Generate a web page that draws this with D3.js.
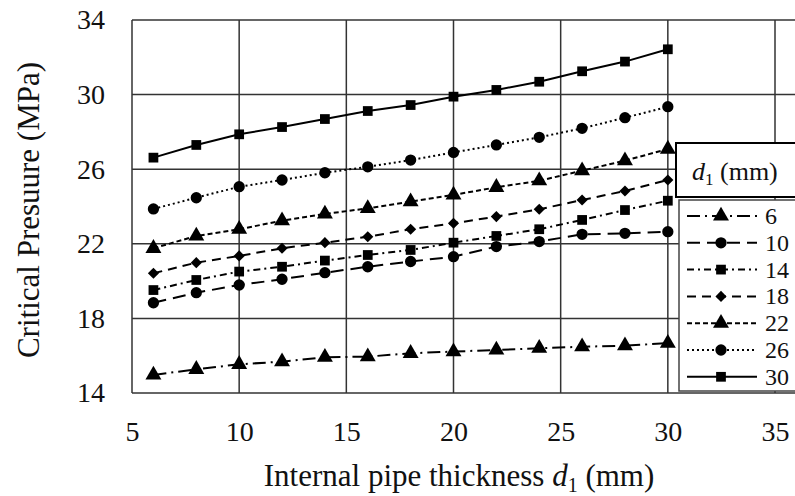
<!DOCTYPE html>
<html>
<head>
<meta charset="utf-8">
<script src="https://cdn.jsdelivr.net/npm/d3@7"></script>
<style>
  body { margin: 0; background: #fff; }
  svg { display: block; font-family: "Liberation Serif", "DejaVu Serif", serif; }
</style>
</head>
<body>
<div id="chart"></div>
<script>
// data
const thickness = [6, 8, 10, 12, 14, 16, 18, 20, 22, 24, 26, 28, 30];
const seriesNames = ["6", "10", "14", "18", "22", "26", "30"];
const p6  = [14.97, 15.27, 15.54, 15.68, 15.92, 15.95, 16.13, 16.22, 16.31, 16.40, 16.48, 16.54, 16.67];
const p10 = [18.84, 19.38, 19.79, 20.10, 20.45, 20.77, 21.05, 21.31, 21.85, 22.12, 22.51, 22.56, 22.65];
const p14 = [19.52, 20.06, 20.51, 20.77, 21.10, 21.40, 21.67, 22.06, 22.42, 22.78, 23.28, 23.81, 24.31];
const p18 = [20.42, 20.99, 21.35, 21.76, 22.06, 22.38, 22.78, 23.10, 23.46, 23.85, 24.35, 24.83, 25.42];
const p22 = [21.76, 22.42, 22.78, 23.24, 23.60, 23.90, 24.26, 24.62, 25.03, 25.38, 25.92, 26.46, 27.08];
const p26 = [23.87, 24.47, 25.06, 25.42, 25.81, 26.13, 26.49, 26.90, 27.30, 27.71, 28.19, 28.76, 29.35];
const p30 = [26.62, 27.30, 27.87, 28.26, 28.69, 29.12, 29.44, 29.89, 30.25, 30.69, 31.25, 31.77, 32.43];
const xTicks = [5, 10, 15, 20, 25, 30, 35];
const yTicks = [14, 18, 22, 26, 30, 34];

const allValues = [p6, p10, p14, p18, p22, p26, p30];

// line and marker styles per series
const styles = [
    { dash: "13,5,2,5", symbol: "triangle" },
    { dash: "13,7",     symbol: "circle" },
    { dash: "7,4,2,4",  symbol: "square" },
    { dash: "9,6",      symbol: "diamond" },
    { dash: "5,3",      symbol: "triangle" },
    { dash: "2,3",      symbol: "circle" },
    { dash: null,       symbol: "square" }
];

const W = 795, H = 496;
const margin = { top: 20, left: 132 };
const plotW = 643, plotH = 373;

const svg = d3.select("#chart").append("svg")
    .attr("width", W)
    .attr("height", H);

const g = svg.append("g")
    .attr("transform", `translate(${margin.left},${margin.top})`);

const x = d3.scaleLinear().domain([5, 35]).range([0, plotW]);
const y = d3.scaleLinear().domain([14, 34]).range([plotH, 0]);

// grid lines
g.append("g").selectAll("line.v")
    .data(xTicks.concat([40]))
    .join("line")
    .attr("x1", d => x(d)).attr("x2", d => x(d))
    .attr("y1", 0).attr("y2", plotH)
    .attr("stroke", "#333").attr("stroke-width", 1.5);

g.append("g").selectAll("line.h")
    .data(yTicks)
    .join("line")
    .attr("x1", 0).attr("x2", W)
    .attr("y1", d => y(d)).attr("y2", d => y(d))
    .attr("stroke", "#333").attr("stroke-width", 1.5);

// axes (labels only)
const xAxis = d3.axisBottom(x).tickValues(xTicks).tickSize(0).tickPadding(28);
const yAxis = d3.axisLeft(y).tickValues(yTicks).tickSize(0).tickPadding(27);

g.append("g")
    .attr("transform", `translate(0,${plotH})`)
    .call(xAxis)
    .call(a => a.select(".domain").remove())
    .selectAll("text")
    .attr("font-size", 28)
    .attr("font-family", "Liberation Serif")
    .attr("fill", "#111");

g.append("g")
    .call(yAxis)
    .call(a => a.select(".domain").remove())
    .selectAll("text")
    .attr("font-size", 28)
    .attr("font-family", "Liberation Serif")
    .attr("fill", "#111");

// marker shapes
function symbolPath(name) {
    if (name === "triangle") return d3.symbol(d3.symbolTriangle, 110)();
    if (name === "circle") return d3.symbol(d3.symbolCircle, 100)();
    if (name === "square") return d3.symbol(d3.symbolSquare, 95)();
    return d3.symbol(d3.symbolSquare, 62)();
}

const line = d3.line()
    .x((d, i) => x(thickness[i]))
    .y(d => y(d));

allValues.forEach((vals, k) => {
    const st = styles[k];
    g.append("path")
        .datum(vals)
        .attr("d", line)
        .attr("fill", "none")
        .attr("stroke", "#000")
        .attr("stroke-width", 2)
        .attr("stroke-dasharray", st.dash);

    g.append("g").selectAll("path")
        .data(vals)
        .join("path")
        .attr("d", symbolPath(st.symbol))
        .attr("transform", (d, i) => `translate(${x(thickness[i])},${y(d)})` +
            (st.symbol === "diamond" ? " rotate(45)" : ""))
        .attr("fill", "#000");
});

// legend
const legTitle = svg.append("g");
legTitle.append("rect")
    .attr("x", 676).attr("y", 143)
    .attr("width", 130).attr("height", 54)
    .attr("fill", "#fff").attr("stroke", "#000").attr("stroke-width", 2);
const tt = legTitle.append("text")
    .attr("x", 692).attr("y", 180)
    .attr("font-size", 26)
    .attr("fill", "#111");
tt.append("tspan").attr("font-style", "italic").text("d");
tt.append("tspan").attr("font-size", 17).attr("dy", 5).text("1");
tt.append("tspan").attr("dy", -5).text(" (mm)");

const leg = svg.append("g");
leg.append("rect")
    .attr("x", 679).attr("y", 200)
    .attr("width", 130).attr("height", 191)
    .attr("fill", "#fff").attr("stroke", "#444").attr("stroke-width", 1.5);

seriesNames.forEach((name, k) => {
    const st = styles[k];
    const cy = 216 + k * 26.8;
    leg.append("line")
        .attr("x1", 687).attr("x2", 757)
        .attr("y1", cy).attr("y2", cy)
        .attr("stroke", "#000").attr("stroke-width", 2)
        .attr("stroke-dasharray", st.dash);
    leg.append("path")
        .attr("d", symbolPath(st.symbol))
        .attr("transform", `translate(721,${cy})` + (st.symbol === "diamond" ? " rotate(45)" : ""))
        .attr("fill", "#000");
    leg.append("text")
        .attr("x", 765).attr("y", cy + 8)
        .attr("font-size", 24)
        .attr("fill", "#111")
        .text(name);
});

// axis titles
const xt = svg.append("text")
    .attr("x", 459).attr("y", 486)
    .attr("text-anchor", "middle")
    .attr("font-size", 31)
    .attr("fill", "#111");
xt.append("tspan").text("Internal pipe thickness ");
xt.append("tspan").attr("font-style", "italic").text("d");
xt.append("tspan").attr("font-size", 20).attr("dy", 6).text("1");
xt.append("tspan").attr("dy", -6).text(" (mm)");

svg.append("text")
    .attr("transform", "translate(39,210) rotate(-90)")
    .attr("text-anchor", "middle")
    .attr("font-size", 31)
    .attr("fill", "#111")
    .text("Critical  Presuure (MPa)");
</script>
</body>
</html>
